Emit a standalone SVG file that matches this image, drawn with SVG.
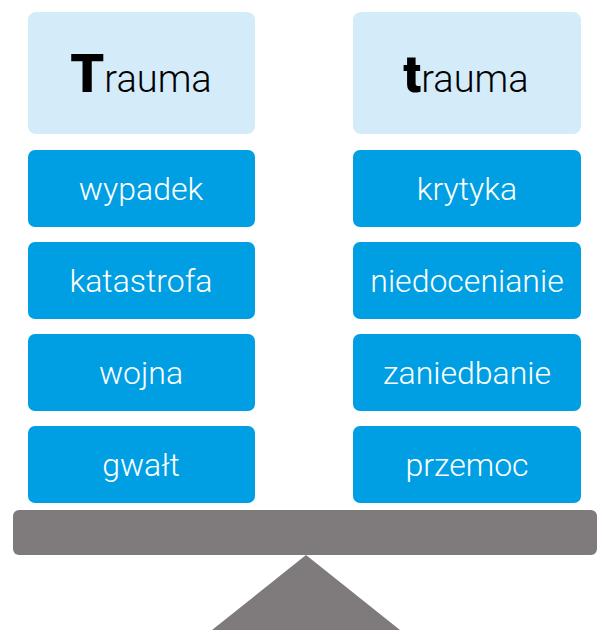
<svg xmlns="http://www.w3.org/2000/svg" width="599" height="630" viewBox="0 0 599 630">
<style>
.hdr{fill:#d4ebfa}
.box{fill:#009fe3}
.lbl{font-family:Roboto,"Liberation Sans",sans-serif;font-weight:300;font-size:32px;fill:#ffffff;text-anchor:middle}
.ttl{font-family:Roboto,"Liberation Sans",sans-serif;font-weight:300;font-size:38px;fill:#000000;text-anchor:middle}
.big{font-weight:900;font-size:54px}
.bigt{font-weight:900;font-size:52px}
.base{fill:#7f7b7c}
</style>
<g id="hdr-left"><rect class="hdr" x="28" y="12" width="227" height="122" rx="8"/><text class="ttl" x="141" y="92"><tspan class="big">T</tspan>rauma</text></g>
<g id="hdr-right"><rect class="hdr" x="353" y="12" width="228" height="122" rx="8"/><text class="ttl" x="466" y="92"><tspan class="bigt">t</tspan>rauma</text></g>
<g id="l1"><rect class="box" x="28" y="150" width="227" height="77" rx="7"/><text class="lbl" x="141" y="200">wypadek</text></g>
<g id="l2"><rect class="box" x="28" y="242" width="227" height="77" rx="7"/><text class="lbl" x="141" y="292">katastrofa</text></g>
<g id="l3"><rect class="box" x="28" y="334" width="227" height="77" rx="7"/><text class="lbl" x="141" y="384">wojna</text></g>
<g id="l4"><rect class="box" x="28" y="426" width="227" height="77" rx="7"/><text class="lbl" x="141" y="476">gwałt</text></g>
<g id="r1"><rect class="box" x="353" y="150" width="228" height="77" rx="7"/><text class="lbl" x="467" y="200">krytyka</text></g>
<g id="r2"><rect class="box" x="353" y="242" width="228" height="77" rx="7"/><text class="lbl" x="467" y="292">niedocenianie</text></g>
<g id="r3"><rect class="box" x="353" y="334" width="228" height="77" rx="7"/><text class="lbl" x="467" y="384">zaniedbanie</text></g>
<g id="r4"><rect class="box" x="353" y="426" width="228" height="77" rx="7"/><text class="lbl" x="467" y="476">przemoc</text></g>
<g id="scale"><rect class="base" x="13" y="510" width="584" height="45" rx="6"/><polygon class="base" points="306,555 400,630 212,630"/></g>
<g id="connectors"/>
</svg>
